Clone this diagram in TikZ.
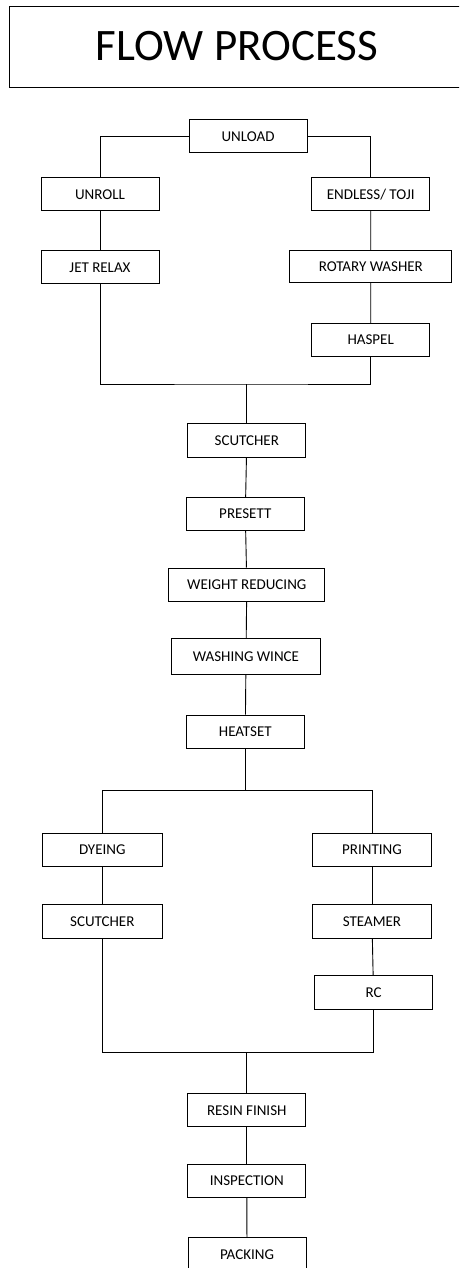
\documentclass[tikz,border=0pt]{standalone}
\usepackage{fontspec}
\setmainfont{Carlito}
\begin{document}
\begin{tikzpicture}[x=1pt,y=-1pt,
  stepbox/.style={draw, line width=1pt, inner sep=0pt, font=\fontsize{15}{17}\selectfont},
  conn/.style={line width=0.9pt},
  trunk/.style={line width=1.3pt}]
\clip (0,0) rectangle (459,1268);
\fill[white] (0,0) rectangle (459,1268);
\draw[line width=1pt] (9,7) rectangle (470,88);
\node (title) at (237,46) {\fontsize{45}{52}\selectfont FLOW PROCESS};
\node[stepbox, minimum width=118pt, minimum height=33pt] (unload) at (248,136.5) {UNLOAD};
\node[stepbox, minimum width=118pt, minimum height=33pt] (unroll) at (100,194.2) {UNROLL};
\node[stepbox, minimum width=118pt, minimum height=33pt] (endless) at (370.7,194.2) {ENDLESS/ TOJI};
\node[stepbox, minimum width=118pt, minimum height=33pt] (jetrelax) at (100,267.3) {JET RELAX};
\node[stepbox, minimum width=161.7pt, minimum height=31.7pt] (rotary) at (370.8,266.8) {ROTARY WASHER};
\node[stepbox, minimum width=118pt, minimum height=33.4pt] (haspel) at (370.7,340) {HASPEL};
\node[stepbox, minimum width=118.3pt, minimum height=33.6pt] (scutcher) at (246.8,440.5) {SCUTCHER};
\node[stepbox, minimum width=118pt, minimum height=33.4pt] (presett) at (245.3,514) {PRESETT};
\node[stepbox, minimum width=155.7pt, minimum height=33pt] (weight) at (246.8,584.5) {WEIGHT REDUCING};
\node[stepbox, minimum width=148.6pt, minimum height=36pt] (washing) at (246,656.7) {WASHING WINCE};
\node[stepbox, minimum width=118pt, minimum height=33pt] (heatset) at (245.3,731.5) {HEATSET};
\node[stepbox, minimum width=120pt, minimum height=33.3pt] (dyeing) at (102.3,849.7) {DYEING};
\node[stepbox, minimum width=118.6pt, minimum height=33.3pt] (printing) at (372,849.7) {PRINTING};
\node[stepbox, minimum width=120pt, minimum height=33.6pt] (scutcherb) at (102.3,921.5) {SCUTCHER};
\node[stepbox, minimum width=118.6pt, minimum height=33.6pt] (steamer) at (372,921.5) {STEAMER};
\node[stepbox, minimum width=118.4pt, minimum height=34.3pt] (rc) at (373.5,992.8) {RC};
\node[stepbox, minimum width=118.3pt, minimum height=33.3pt] (resin) at (246.8,1110.3) {RESIN FINISH};
\node[stepbox, minimum width=118.3pt, minimum height=33pt] (inspection) at (246.8,1180.8) {INSPECTION};
\node[stepbox, minimum width=118pt, minimum height=33pt] (packing) at (247,1254.2) {PACKING};
\coordinate (j1) at (246.8,384);
\coordinate (j2) at (245.3,790.7);
\coordinate (j3) at (246.8,1052);
\draw[conn] (unload.west) -| (unroll.north);
\draw[conn] (unload.east) -| (endless.north);
\draw[conn] (unroll) -- (jetrelax);
\draw[conn] (endless) -- (rotary);
\draw[conn] (rotary) -- (haspel);
\draw[conn] (jetrelax.south) |- (j1) -| (haspel.south);
\draw[trunk] (j1) -- (scutcher.north);
\draw[conn] (scutcher) -- (presett);
\draw[conn] (presett) -- (weight);
\draw[conn] (weight) -- (washing);
\draw[conn] (washing) -- (heatset);
\draw[trunk] (heatset.south) -- (j2);
\draw[conn] (dyeing.north) |- (j2) -| (printing.north);
\draw[conn] (dyeing) -- (scutcherb);
\draw[conn] (printing) -- (steamer);
\draw[conn] (steamer) -- (rc);
\draw[conn] (scutcherb.south) |- (j3) -| (rc.south);
\draw[trunk] (j3) -- (resin.north);
\draw[conn] (resin) -- (inspection);
\draw[conn] (inspection) -- (packing);
\end{tikzpicture}
\end{document}
